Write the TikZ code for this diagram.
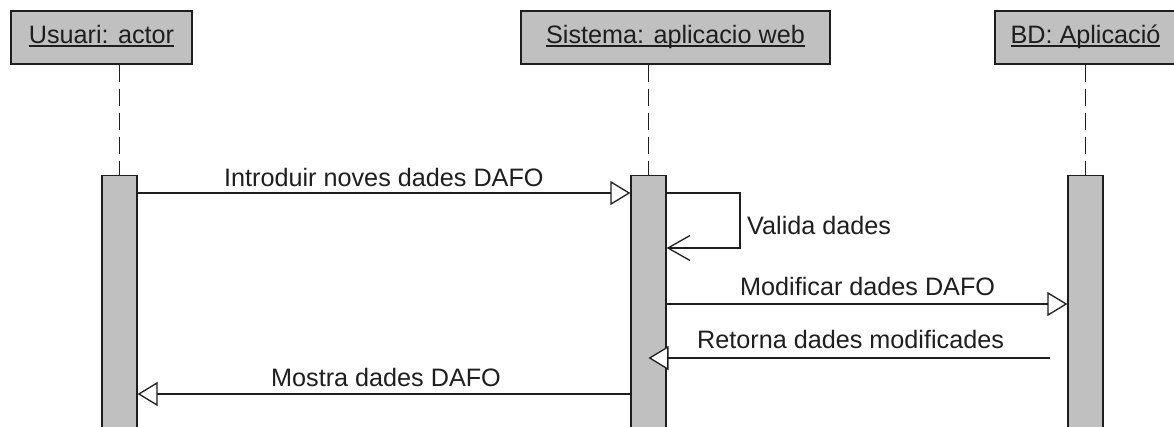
\documentclass[tikz,border=0pt]{standalone}
\usepackage{fontspec}
\setmainfont{Liberation Sans}
\usetikzlibrary{arrows.meta}
\definecolor{boxgray}{HTML}{C0C0C0}
\definecolor{ink}{HTML}{1E1E1E}
\newcommand\myul[1]{\setbox0\hbox{#1}\rlap{\vrule height -2.4pt depth 3.7pt width \wd0}\box0}
\tikzset{
  objbox/.style={draw=ink, fill=boxgray, line width=1.3pt, minimum height=53pt, inner sep=0pt,
    text height=18pt, text depth=7pt, font=\fontsize{25.2}{30}\selectfont, text=ink},
  actbar/.style={draw=ink, fill=boxgray, line width=1.3pt, minimum width=35pt, minimum height=255pt, inner sep=0pt, anchor=north},
  lifeline/.style={draw=ink, line width=1.3pt, dash pattern=on 17pt off 7pt},
  msg/.style={draw=ink, line width=1.3pt, -{Triangle[length=20pt,width=24pt,fill=white]}},
  selfmsg/.style={draw=ink, line width=1.3pt, -{Straight Barb[length=22pt,width=25pt]}},
  msglabel/.style={anchor=base west, inner sep=0pt, font=\fontsize{25.2}{30}\selectfont, text=ink}
}
\begin{document}
\begin{tikzpicture}[x=1pt,y=-1pt]
\clip (0,0) rectangle (1174,426);
\fill[white] (0,0) rectangle (1174,426);
% objects
\node[objbox, minimum width=181pt] (u) at (101.5,37.5) {\myul{Usuari: actor}};
\node[objbox, minimum width=309pt] (s) at (675.5,37.5) {\myul{Sistema: aplicacio web}};
\node[objbox, minimum width=181pt] (b) at (1085.5,37.5) {\myul{BD: Aplicació}};
% activation bars
\node[actbar] (bu) at (119.5,175) {};
\node[actbar] (bs) at (648.5,175) {};
\node[actbar] (bb) at (1085.5,175) {};
% lifelines
\draw[lifeline] (u.south -| bu.north) -- (bu.north);
\draw[lifeline] (s.south -| bs.north) -- (bs.north);
\draw[lifeline] (b.south -| bb.north) -- (bb.north);
% message heights
\coordinate (y1) at (0,193);
\coordinate (y2) at (0,248);
\coordinate (y3) at (0,304);
\coordinate (y4) at (0,358);
\coordinate (y5) at (0,394);
\coordinate (loopx) at (740,0);
\coordinate (retstart) at (1050,358);
% messages
\draw[msg] (bu.east |- y1) -- (bs.west |- y1);
\draw[selfmsg] (bs.east |- y1) -- (loopx |- y1) -- (loopx |- y2) -- (bs.east |- y2);
\draw[msg] (bs.east |- y3) -- (bb.west |- y3);
\draw[msg] (retstart) -- (bs.center |- y4);
\draw[msg] (bs.west |- y5) -- (bu.east |- y5);
% labels
\node[msglabel] (l1) at (224,186) {Introduir noves dades DAFO};
\node[msglabel] (l2) at (747,234) {Valida dades};
\node[msglabel] (l3) at (740,295) {Modificar dades DAFO};
\node[msglabel] (l4) at (697,348) {Retorna dades modificades};
\node[msglabel] (l5) at (271,386) {Mostra dades DAFO};
\end{tikzpicture}
\end{document}
